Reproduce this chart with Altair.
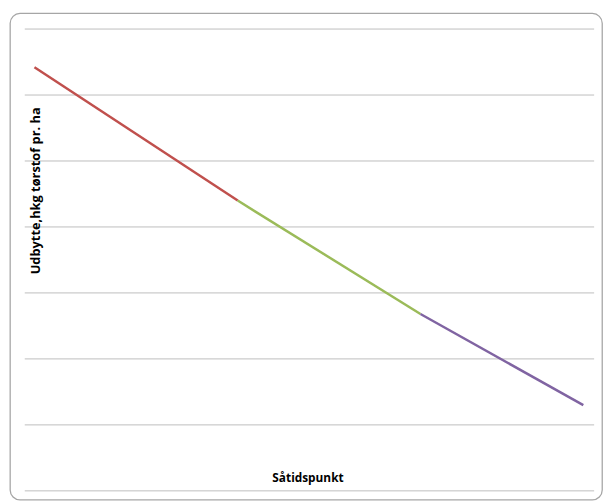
import altair as alt
import pandas as pd

# Data
series = ["Tidlig", "Tidlig", "Middel", "Middel", "Sen", "Sen"]
sow_time = [0.17, 3.74, 3.74, 6.95, 6.95, 9.81]
yield_hkg = [6.42, 4.40, 4.40, 2.68, 2.68, 1.30]
series_names = ["Tidlig", "Middel", "Sen"]
series_colors = ["#C0504D", "#9BBB59", "#8064A2"]
y_ticks = [0, 1, 2, 3, 4, 5, 6, 7]
x_title = "Såtidspunkt"
y_title = "Udbytte,hkg tørstof pr. ha"

df = pd.DataFrame({"serie": series, "x": sow_time, "y": yield_hkg})
grid_df = pd.DataFrame({"v": y_ticks})
one = pd.DataFrame({"a": [0]})

FONT = "Open Sans"
yscale = alt.Scale(domain=[0, 7], range=[484, 16], nice=False, zero=False)
xscale = alt.Scale(domain=[0, 10], range=[15, 592], nice=False, zero=False)

grid = alt.Chart(grid_df).mark_rule(color="#bdbdbd", strokeWidth=1).encode(
    y=alt.Y("v:Q", scale=yscale, axis=None),
    x=alt.value(15), x2=alt.value(592),
)

lines = alt.Chart(df).mark_line(strokeWidth=2.5).encode(
    x=alt.X("x:Q", scale=xscale, axis=None),
    y=alt.Y("y:Q", scale=yscale, axis=None),
    color=alt.Color("serie:N", scale=alt.Scale(domain=series_names, range=series_colors),
                    legend=None),
    detail="serie:N",
)

xt = alt.Chart(one).mark_text(
    text=x_title, font=FONT, fontSize=12, fontWeight="bold", color="#000000",
    align="center", baseline="alphabetic"
).encode(x=alt.value(302), y=alt.value(475))

yt = alt.Chart(one).mark_text(
    text=y_title, font=FONT, fontSize=13, fontWeight="bold", color="#000000",
    align="center", baseline="middle", angle=270
).encode(x=alt.value(26), y=alt.value(180))

chart = alt.layer(grid, lines, xt, yt).properties(
    width=600, height=493,
    padding={"left": 2, "top": 2, "right": 2, "bottom": 1},
    autosize=alt.AutoSizeParams(type="none"),
    background="#ffffff",
).configure_view(stroke="#a6a6a6", strokeWidth=1.3, cornerRadius=10)

chart.save("out.html", embed_options={"renderer": "svg", "actions": False})
